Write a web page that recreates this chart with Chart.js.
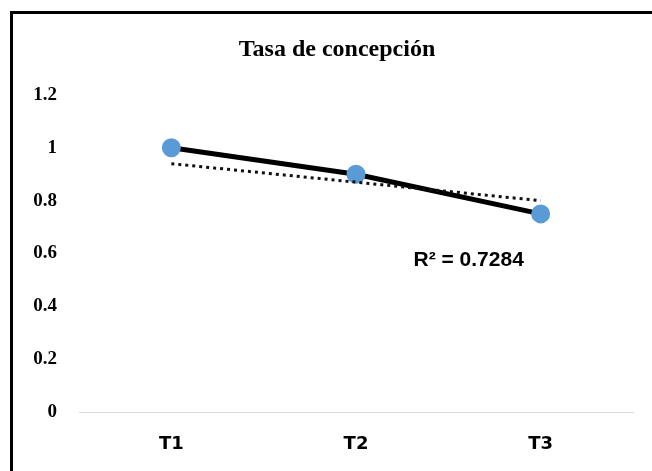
<!DOCTYPE html>
<html lang="es">
<head>
  <meta charset="UTF-8">
  <title>Tasa de concepción</title>
  <script src="https://cdn.jsdelivr.net/npm/chart.js"></script>
  <style>
    body { margin: 0; background: #fff; overflow: hidden; }
    #wrap { position: relative; width: 652px; height: 471px; }
    #frame { position: absolute; left: 10px; top: 11px; width: 700px; height: 520px;
             border: 3px solid #000; pointer-events: none; }
  </style>
</head>
<body>
  <div id="wrap">
    <canvas id="chart" width="652" height="471"></canvas>
    <div id="frame"></div>
  </div>

  <script>
    const categories = ['T1', 'T2', 'T3'];
    const tasa = [1.0, 0.9, 0.75];
    const tendencia = [0.94, 0.87, 0.80];
    const yTicks = [0, 0.2, 0.4, 0.6, 0.8, 1, 1.2];
    const titleText = 'Tasa de concepción';
    const r2Text = 'R² = 0.7284';

    // título (algo a la derecha del centro, como en el original) y etiqueta R²
    const textos = {
      id: 'textos',
      afterDatasetsDraw(chart) {
        const { ctx, scales } = chart;
        ctx.save();
        ctx.fillStyle = '#000';
        ctx.textAlign = 'center';
        ctx.textBaseline = 'middle';

        ctx.font = 'bold 24px "Liberation Serif", "Times New Roman", serif';
        ctx.fillText(titleText, chart.width / 2 + 11, 50);

        ctx.font = 'bold 21px "Liberation Sans", Arial, sans-serif';
        const x = scales.x.getPixelForValue(2) - 72;
        const y = scales.y.getPixelForValue(0.576);
        ctx.fillText(r2Text, x, y);
        ctx.restore();
      }
    };

    const ctx = document.getElementById('chart').getContext('2d');
    new Chart(ctx, {
      type: 'line',
      data: {
        labels: categories,
        datasets: [
          {
            label: 'Tasa de concepción',
            data: tasa,
            borderColor: '#000',
            borderWidth: 5,
            pointBackgroundColor: '#5b9bd5',
            pointBorderColor: '#5b9bd5',
            pointRadius: 7,
            tension: 0,
            order: 2
          },
          {
            label: 'Tendencia',
            data: tendencia,
            borderColor: '#111',
            borderWidth: 3,
            borderDash: [3, 4],
            pointRadius: 0,
            tension: 0,
            order: 1
          }
        ]
      },
      options: {
        responsive: false,
        animation: false,
        layout: { padding: { left: 0, right: 19, top: 95, bottom: 0 } },
        plugins: {
          legend: { display: false },
          tooltip: { enabled: false },
          title: { display: false }
        },
        scales: {
          x: {
            offset: true,
            grid: { display: false, drawTicks: false },
            border: { display: true, color: '#d9d9d9', width: 1 },
            ticks: {
              color: '#000',
              padding: 22,
              font: { family: '"DejaVu Sans", Verdana, sans-serif', size: 18, weight: 'bold' }
            },
            afterFit(scale) { scale.height = 59; }
          },
          y: {
            min: 0,
            max: 1.2,
            grid: { display: false, drawTicks: false },
            border: { display: false },
            afterBuildTicks(scale) { scale.ticks = yTicks.map(v => ({ value: v })); },
            ticks: {
              color: '#000',
              padding: 22,
              callback: v => String(v),
              font: { family: '"Liberation Serif", "Times New Roman", serif', size: 19, weight: 'bold' }
            },
            afterFit(scale) { scale.width = 79; }
          }
        }
      },
      plugins: [textos]
    });
  </script>
</body>
</html>
